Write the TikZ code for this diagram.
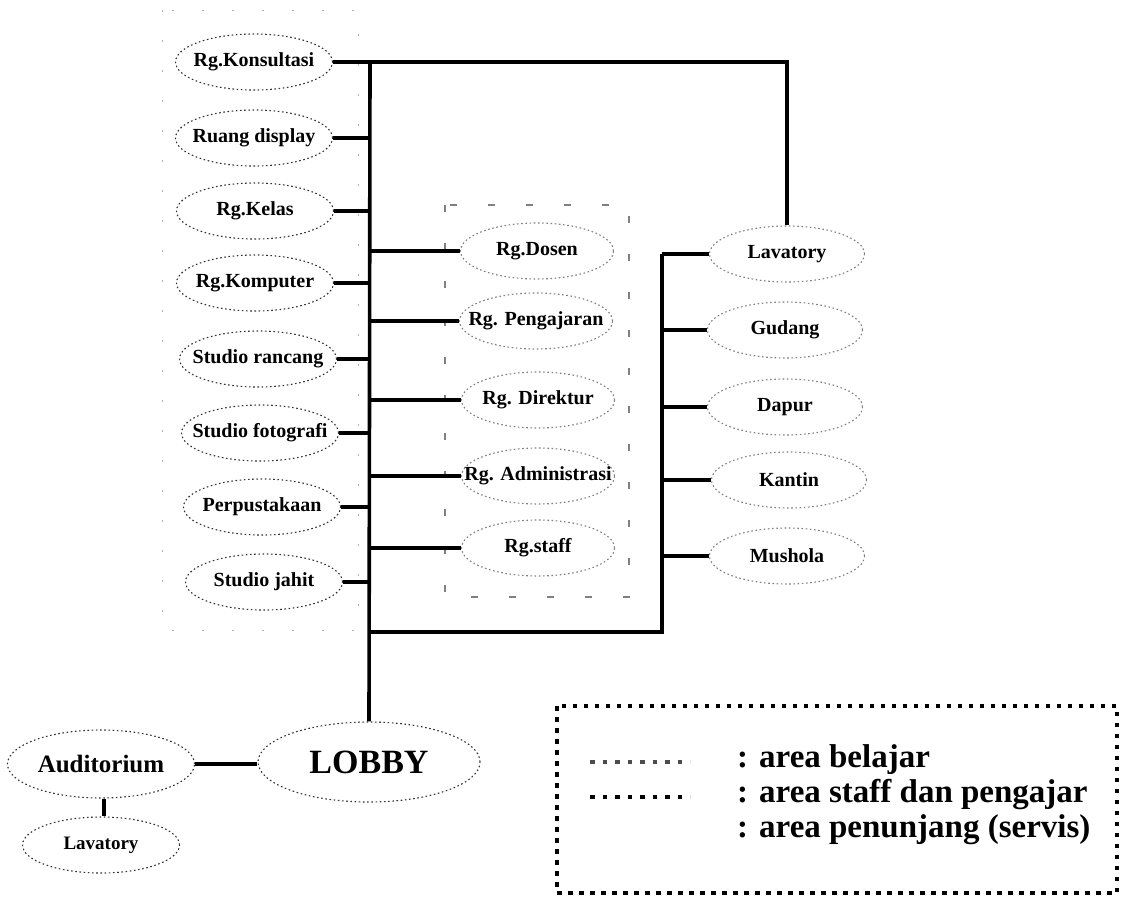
\documentclass[tikz,border=0pt]{standalone}
\usepackage{fontspec}
\setmainfont{Liberation Serif}
\usetikzlibrary{shapes.geometric}
\tikzset{
  room/.style={ellipse, inner sep=0pt, minimum width=157pt, minimum height=56pt,
    line width=1.1pt, dash pattern=on 1.6pt off 2.6pt,
    execute at begin node={\hbox to 0pt\bgroup\hss},
    execute at end node={\hss\egroup},
    font=\fontsize{20}{22}\selectfont\bfseries},
  belajar/.style={room, draw=black!80},
  staffroom/.style={room, draw=black!50},
  servis/.style={room, draw=black!50},
  link/.style={line width=3.6pt},
  legtext/.style={anchor=west, inner sep=0pt, font=\fontsize{33}{36}\selectfont\bfseries}
}
\begin{document}
\begin{tikzpicture}[x=1pt,y=-1pt]
\useasboundingbox[fill=white] (0,0) rectangle (1121,902);

% faint area frames
\draw[black!30, line width=0.8pt, dash pattern=on 2pt off 28pt] (162,10) rectangle (358,630);
\draw[black!50, line width=1.4pt, dash pattern=on 7pt off 31pt] (445,205) rectangle (629,597);

% spine coordinates
\coordinate (sp) at (370,62);
\coordinate (bl) at (370,632);
\coordinate (br) at (662,632);
\coordinate (tr) at (787,62);

% left column (area belajar)
\node[belajar] (kons) at (254,62) {Rg.Konsultasi};
\node[belajar] (disp) at (254,138) {Ruang display};
\node[belajar] (kelas) at (255,211) {Rg.Kelas};
\node[belajar] (komp) at (255,283) {Rg.Komputer};
\node[belajar] (ranc) at (258,359) {Studio rancang};
\node[belajar] (foto) at (260,433) {Studio fotografi};
\node[belajar] (pust) at (262,507) {Perpustakaan};
\node[belajar] (jahit) at (264,582) {Studio jahit};

% middle column (area staff dan pengajar)
\node[staffroom, minimum width=153pt] (dosen) at (537,251) {Rg.Dosen};
\node[staffroom, minimum width=153pt] (ajar) at (536,321) {Rg. Pengajaran};
\node[staffroom, minimum width=153pt] (dir) at (538,400) {Rg. Direktur};
\node[staffroom, minimum width=153pt] (adm) at (538,476) {Rg. Administrasi};
\node[staffroom, minimum width=153pt] (staff) at (538,548) {Rg.staff};

% right column (area penunjang)
\node[servis, minimum width=155pt] (lavr) at (787,254) {Lavatory};
\node[servis, minimum width=155pt] (gud) at (785,330) {Gudang};
\node[servis, minimum width=155pt] (dap) at (785,407) {Dapur};
\node[servis, minimum width=155pt] (kan) at (789,480) {Kantin};
\node[servis, minimum width=155pt] (mus) at (787,556) {Mushola};

% bottom
\node[belajar, minimum width=222pt, minimum height=80pt, font=\fontsize{34}{36}\selectfont\bfseries] (lobby) at (369,762) {LOBBY};
\node[belajar, minimum width=187pt, minimum height=68pt, font=\fontsize{25}{26}\selectfont\bfseries] (aud) at (101,764) {Auditorium};
\node[belajar, minimum width=157pt, minimum height=56pt, font=\fontsize{19}{20}\selectfont\bfseries] (lavb) at (101,845) {Lavatory};

% connectors
\draw[link] (kons.east) -- (tr) -- (lavr.north);
\draw[link] (sp) -- (lobby.north);
\foreach \n in {disp,kelas,komp,ranc,foto,pust,jahit}
  \draw[link] (\n.east) -- (\n.east -| sp);
\foreach \n in {dosen,ajar,dir,adm,staff}
  \draw[link] (\n.west -| sp) -- (\n.west);
\draw[link] (bl) -- (br) -- (br |- lavr.west);
\foreach \n in {lavr,gud,dap,kan,mus}
  \draw[link] (\n.west -| br) -- (\n.west);
\draw[link] (aud.east) -- (aud.east -| lobby.west);
\draw[link] (aud.south -| 104,0) -- (lavb.north -| 104,0);

% legend
\draw[line width=4.5pt, dash pattern=on 4.5pt off 6.5pt] (557,706) rectangle (1117,893);
\coordinate (la) at (590,762);
\coordinate (lb) at (590,797);
\draw[black!70, line width=4.5pt, dash pattern=on 4.5pt off 8pt] (la) -- ++(100,0);
\draw[black, line width=4.5pt, dash pattern=on 4.5pt off 8pt] (lb) -- ++(100,0);
\node[legtext] (t1) at (737,760) {: area belajar};
\node[legtext] (t2) at (737,795) {: area staff dan pengajar};
\node[legtext] (t3) at (737,830) {: area penunjang (servis)};
\end{tikzpicture}
\end{document}
